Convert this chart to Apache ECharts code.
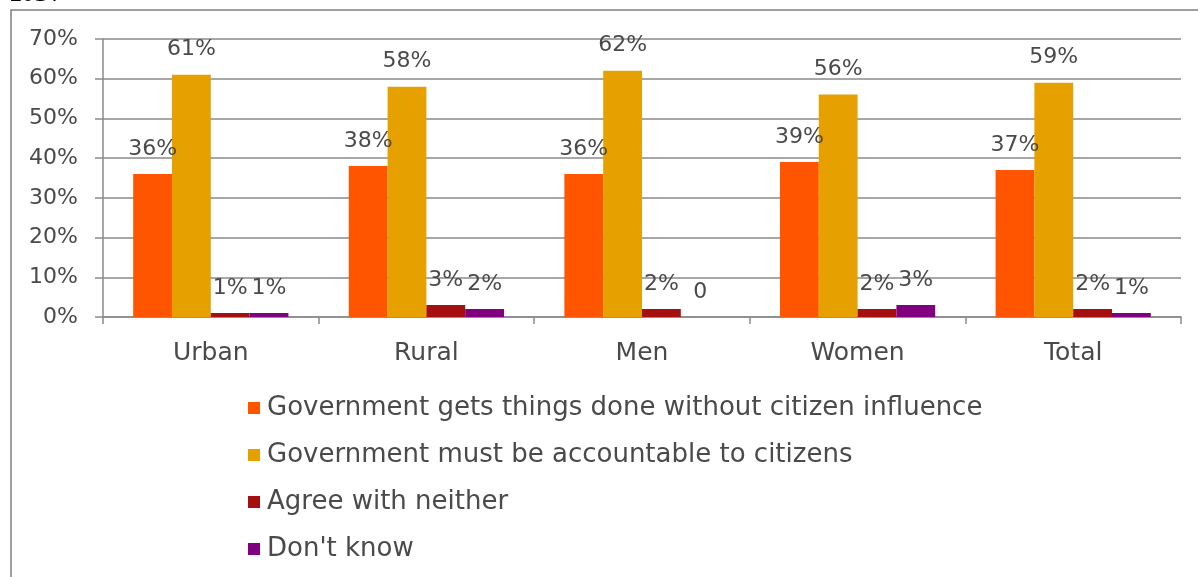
<!DOCTYPE html>
<html>
<head>
<meta charset="utf-8">
<script src="https://cdn.jsdelivr.net/npm/echarts@6/dist/echarts.min.js"></script>
<style>
  html, body { margin: 0; padding: 0; background: #fff; }
  #chart { width: 1198px; height: 577px; }
</style>
</head>
<body>
<div id="chart"></div>
<script>
// Survey answers by group, in percent
const categories = ['Urban', 'Rural', 'Men', 'Women', 'Total'];
const seriesNames = [
  'Government gets things done without citizen influence',
  'Government must be accountable to citizens',
  'Agree with neither',
  "Don't know"
];
const getsThingsDone = [36, 38, 36, 39, 37];
const mustBeAccountable = [61, 58, 62, 56, 59];
const agreeWithNeither = [1, 3, 2, 2, 2];
const dontKnow = [1, 2, 0, 3, 1];
const yTicks = [0, 10, 20, 30, 40, 50, 60, 70];

const colors = ['#FF5500', '#E6A000', '#A50F0F', '#800080'];
const values = [getsThingsDone, mustBeAccountable, agreeWithNeither, dontKnow];
const FONT = 'DejaVu Sans';
const TEXT = '#4a4a4a';
const GRID = '#8a8a8a';

const chart = echarts.init(document.getElementById('chart'), null, { renderer: 'canvas' });

chart.setOption({
  animation: false,
  backgroundColor: '#fff',
  color: colors,
  textStyle: { fontFamily: FONT },
  graphic: [
    {
      type: 'rect',
      shape: { x: 11, y: 10, width: 1200, height: 600 },
      style: { fill: 'none', stroke: '#808080', lineWidth: 1.5 },
      silent: true
    },
    {
      type: 'text',
      x: 10, y: -17,
      style: { text: '2014', fontSize: 24, fontFamily: 'Liberation Serif', fill: '#000' },
      silent: true,
      z: 10
    }
  ],
  grid: { left: 103, right: 17, top: 39, bottom: 260, containLabel: false },
  legend: {
    orient: 'vertical',
    left: 243,
    top: 390,
    itemWidth: 12,
    itemHeight: 12,
    itemGap: 21,
    icon: 'rect',
    textStyle: { fontFamily: FONT, fontSize: 26, color: TEXT, padding: [0, 0, 0, 2] },
    data: seriesNames
  },
  xAxis: {
    type: 'category',
    data: categories,
    axisLine: { lineStyle: { color: GRID, width: 1.5 } },
    axisTick: { show: true, length: 7, lineStyle: { color: GRID, width: 1.5 } },
    axisLabel: { fontFamily: FONT, fontSize: 25, color: TEXT, margin: 24 }
  },
  yAxis: {
    type: 'value',
    min: 0,
    max: 70,
    interval: 10,
    axisLine: { show: true, lineStyle: { color: GRID, width: 1.5 } },
    axisTick: { show: true, length: 8, lineStyle: { color: GRID, width: 1.5 } },
    splitLine: { lineStyle: { color: GRID, width: 1.5 } },
    axisLabel: {
      fontFamily: FONT, fontSize: 22, color: TEXT, margin: 25,
      formatter: v => (yTicks.includes(v) ? v + '%' : '')
    }
  },
  series: values.map((vals, i) => ({
    name: seriesNames[i],
    type: 'bar',
    data: vals,
    barGap: '0%',
    barCategoryGap: '28%',
    itemStyle: { color: colors[i] },
    label: {
      show: true,
      position: 'top',
      distance: 14,
      fontFamily: FONT,
      fontSize: 22,
      color: TEXT,
      formatter: p => (p.value === 0 ? '0' : p.value + '%')
    }
  }))
});
</script>
</body>
</html>
